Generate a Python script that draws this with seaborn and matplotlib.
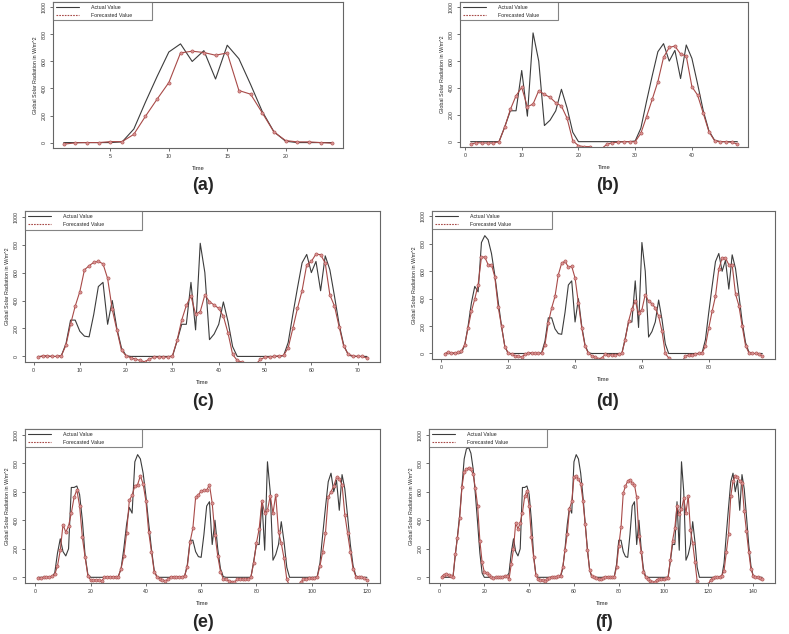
import numpy as np
import pandas as pd
import matplotlib
matplotlib.use("Agg")
import matplotlib.pyplot as plt
from matplotlib.lines import Line2D
import seaborn as sns

# actual hourly radiation for the six days used in the panels
day_a = [0, 0, 0, 0, 0, 5, 100, 300, 490, 670, 730, 600, 680, 470, 720, 620, 430, 230, 80, 10, 0, 0, 0, 0]
day_c = [0, 0, 0, 0, 0, 0, 110, 230, 230, 530, 190, 810, 600, 120, 160, 230, 390, 250, 70, 0, 0, 0, 0, 0]
day_d = [0, 0, 0, 0, 0, 5, 90, 260, 260, 180, 145, 140, 300, 500, 530, 230, 400, 200, 60, 5, 0, 0, 0, 0]
day_e = [0, 0, 0, 0, 0, 5, 60, 200, 370, 490, 450, 810, 860, 830, 730, 570, 380, 200, 50, 0, 0, 0, 0, 0]
day_f = [0, 0, 0, 0, 0, 5, 30, 170, 270, 180, 150, 200, 630, 630, 640, 580, 400, 150, 20, 0, 0, 0, 0, 0]
day_g = [0, 0, 0, 0, 0, 0, 150, 290, 440, 640, 830, 900, 910, 870, 760, 580, 380, 170, 30, 0, 0, 0, 0, 0]

# forecasts per panel
fc_a = [-12, -2, 0, 0, 7, 7, 61, 195, 322, 444, 663, 676, 666, 646, 663, 385, 358, 220, 78, 15, 5, 5, 0, -5]

fc_b = [-20, -7, -10, -10, -10, 0, 107, 240, 342, 404, 260, 280, 380, 352, 330, 290, 265, 174, 7, -30, -37, -37, -55, -55,
        -20, -7, -5, 0, 0, 0, 62, 186, 315, 447, 628, 702, 712, 653, 638, 409, 347, 211, 74, 7, 0, 0, -5, -17]

fc_c = [-5, 5, 5, 0, 0, 5, 80, 231, 360, 464, 620, 649, 673, 680, 663, 558, 337, 188, 43, 5, -10, -19, -29, -38,
        -19, -5, -5, -5, -5, 5, 115, 260, 365, 433, 303, 320, 440, 392, 368, 344, 288, 168, 14, -29, -41, -60, -60, -55,
        -22, -5, -5, 0, 5, 7, 62, 200, 344, 471, 656, 680, 733, 728, 668, 440, 360, 212, 72, 14, 5, 0, 0, -12]

fc_d = [-2, 10, 5, 5, 8, 17, 65, 187, 308, 398, 502, 704, 704, 648, 648, 558, 340, 199, 49, 5, -7, -15, -19, -27,
        -7, 5, 5, 0, 0, 0, 65, 223, 332, 417, 575, 660, 672, 631, 636, 551, 369, 187, 53, 0, -15, -24, -39, -32,
        -7, -10, -10, -10, -5, 0, 102, 235, 325, 381, 296, 320, 430, 381, 364, 332, 272, 163, 0, -32, -60, -65, -65, -60,
        -19, -10, -10, -5, 0, 5, 53, 187, 308, 417, 616, 697, 697, 648, 648, 434, 350, 199, 58, 5, 0, 0, -5, -15]

fc_e = [-5, -5, 0, 5, 0, 10, 20, 80, 190, 370, 316, 360, 450, 560, 613, 500, 280, 140, 10, -19, -20, -20, -22, -25,
        0, 5, 5, 5, 5, 5, 60, 150, 310, 540, 575, 640, 650, 712, 653, 536, 320, 180, 40, 5, -10, -20, -25, -15,
        5, 5, 5, 5, 5, 10, 75, 250, 344, 560, 578, 605, 610, 610, 650, 520, 300, 150, 40, -10, -15, -25, -30, -35,
        -15, -10, -10, -10, -10, 0, 100, 240, 340, 536, 450, 470, 571, 450, 578, 316, 239, 133, -15, -60, -60, -60, -60, -35,
        -15, -10, -5, -5, -5, 0, 80, 180, 310, 560, 600, 640, 700, 690, 650, 440, 310, 180, 60, 5, 0, 0, -5, -20]

fc_f = [5, 19, 23, 19, 12, 5, 160, 279, 419, 633, 740, 760, 767, 756, 721, 623, 500, 256, 105, 35, 28, 19, 5, -5,
        0, 0, 5, 5, 8, 10, -15, 93, 198, 384, 337, 384, 453, 567, 605, 500, 280, 140, 15, -15, -20, -20, -25, -15,
        -5, 5, 5, 5, 9, 10, 74, 190, 305, 479, 532, 700, 710, 687, 657, 537, 375, 190, 51, 9, 0, -5, -10, -14,
        -5, 5, 5, 0, 0, 5, 70, 221, 350, 590, 640, 675, 685, 660, 650, 560, 290, 180, 40, 0, -15, -25, -35, -35,
        -18, -12, -10, -10, -8, -5, 120, 256, 344, 500, 442, 477, 553, 453, 570, 330, 240, 110, -28, -60, -60, -60, -60, -50,
        -18, -5, 0, 0, 5, 12, 47, 174, 302, 570, 674, 709, 705, 674, 663, 465, 325, 181, 58, 12, 5, 0, -5, -15]

panels = [
    ("(a)", [day_a], fc_a, [5, 10, 15, 20]),
    ("(b)", [day_c, day_a], fc_b, [0, 10, 20, 30, 40]),
    ("(c)", [day_d, day_c, day_a], fc_c, [0, 10, 20, 30, 40, 50, 60, 70]),
    ("(d)", [day_e, day_d, day_c, day_a], fc_d, [0, 20, 40, 60, 80]),
    ("(e)", [day_f, day_e, day_d, day_c, day_a], fc_e, [0, 20, 40, 60, 80, 100, 120]),
    ("(f)", [day_g, day_f, day_e, day_d, day_c, day_a], fc_f, [0, 20, 40, 60, 80, 100, 120, 140]),
]

# axes rectangles (left, bottom, width, height) and legend width fraction
rects = [
    (0.0672, 0.7666, 0.3676, 0.2303),
    (0.5830, 0.7681, 0.3650, 0.2287),
    (0.0317, 0.4290, 0.4500, 0.2380),
    (0.5475, 0.4338, 0.4347, 0.2334),
    (0.0317, 0.0804, 0.4500, 0.2430),
    (0.5437, 0.0804, 0.4385, 0.2430),
]
leg_w = [0.34, 0.34, 0.33, 0.35, 0.33, 0.34]
label_pos = [(0.257, 0.708), (0.770, 0.708), (0.257, 0.366), (0.770, 0.366), (0.257, 0.018), (0.765, 0.018)]

sns.set_theme(style="white")
plt.rcParams['font.family'] = ['Liberation Sans', 'DejaVu Sans']

fig = plt.figure(figsize=(7.89, 6.34), dpi=100)
act_col = "#3c3c3c"
fc_col = "#a84a48"

for i, (lab, days, fc, xt) in enumerate(panels):
    ax = fig.add_axes(rects[i])
    actual = np.concatenate(days)
    n = len(actual)
    t = np.arange(1, n + 1)
    df = pd.DataFrame({"Time": t, "actual": actual, "forecast": fc})
    sns.lineplot(data=df, x="Time", y="actual", ax=ax, color=act_col, linewidth=0.8)
    sns.lineplot(data=df, x="Time", y="forecast", ax=ax, color=fc_col, linewidth=0.8,
                 marker="o", markersize=2.3, markerfacecolor="#d99494",
                 markeredgecolor=fc_col, markeredgewidth=0.4)
    pad = 0.04 * (n - 1)
    ax.set_xlim(1 - pad, n + pad)
    ax.set_ylim(-40, 1040)
    ax.set_xticks(xt)
    ax.set_yticks([0, 200, 400, 600, 800, 1000])
    ax.tick_params(axis="both", labelsize=3.8, length=2.5, width=0.5, pad=2,
                   colors="#333333", bottom=True, left=True)
    for tl in ax.get_yticklabels():
        tl.set_rotation(90)
        tl.set_va("center")
    ax.set_xlabel("Time", fontsize=4.2, labelpad=5, color="#222222")
    ax.set_ylabel("Global Solar Radiation in W/m^2", fontsize=3.8, labelpad=3, color="#222222")
    for s in ax.spines.values():
        s.set_color("#666666")
        s.set_linewidth(0.8)
    handles = [Line2D([0], [0], color=act_col, lw=0.8),
               Line2D([0], [0], color=fc_col, lw=0.8, ls=(0, (1.5, 1)))]
    leg = ax.legend(handles, ["Actual Value", "Forecasted Value"], loc="upper left",
                    bbox_to_anchor=(0, 0, leg_w[i], 1), mode="expand", borderaxespad=0,
                    fontsize=3.8, frameon=True, fancybox=False, handlelength=4.5,
                    handletextpad=2.2, borderpad=0.5, labelspacing=0.6)
    leg.get_frame().set_edgecolor("#666666")
    leg.get_frame().set_linewidth(0.8)
    fig.text(label_pos[i][0], label_pos[i][1], lab, fontsize=13, fontweight="bold",
             ha="center", va="center")

fig.savefig("out.png", dpi=100)
